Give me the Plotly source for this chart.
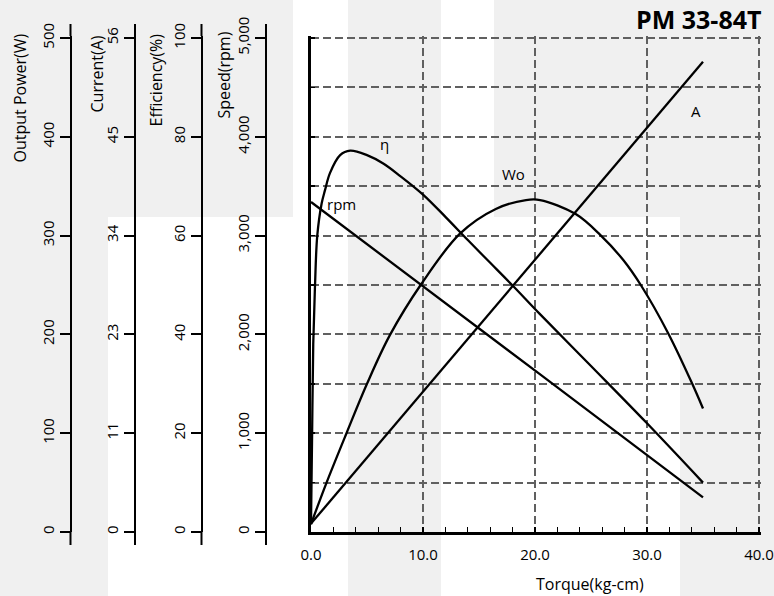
import plotly.graph_objects as go

# ---------------- data ----------------
torque_eff = [0, 0.1, 0.2, 0.36, 0.56, 0.95, 1.25, 1.7, 2.6, 3.5, 5.0, 6.45, 8.0, 10.0, 12.0, 14.0, 16.0, 18.0, 20.4, 25.0, 30.0, 35.0]
efficiency = [1.5, 20, 38, 50, 60, 66.5, 69.2, 72.7, 76.3, 77.2, 76.3, 74.6, 72.0, 68.3, 63.8, 59.1, 54.5, 49.9, 44.2, 33.6, 22.0, 10.0]

torque_wo = [0, 1.39, 3.17, 5.0, 7.03, 9.85, 13.3, 16.5, 19.2, 20.45, 23.6, 25.8, 27.9, 29.5, 31.9, 34.0, 35.0]
output_power = [8, 50, 100, 150, 199, 251, 302, 327, 336, 336, 322, 301, 275, 249, 201, 151, 125]

torque_rpm = [0, 10, 20.4, 35]
speed = [3340, 2490, 1600, 350]

torque_cur = [0, 18, 35]
current = [0.95, 27.9, 53.3]

power_ticks = [0, 100, 200, 300, 400, 500]
current_tickvals = [0, 11.2, 22.4, 33.6, 44.8, 56]
current_ticktext = ["0", "11", "23", "34", "45", "56"]
eff_ticks = [0, 20, 40, 60, 80, 100]
speed_ticks = [0, 1000, 2000, 3000, 4000, 5000]
torque_ticks = [0, 10, 20, 30, 40]

# ---------------- layout geometry (pixels) ----------------
W, H = 774, 596
X0, X1 = 311, 759          # plot area left/right
YT, YB = 38, 532           # plot area top/bottom
EXT = 2                    # small extension so edge gridlines are kept
LINE_TOP, LINE_BOT = 24, 545
FONT = "Open Sans"


def fx(px):
    return px / W


def fy(py):
    return 1 - py / H


def ext_range(vmax):
    return [0, vmax * (YB - YT + EXT) / (YB - YT)]


x_max = 40 * (X1 - X0 + EXT) / (X1 - X0)

left_axes = [
    # (axis name, pixel x, max, tickvals, ticktext)
    ("yaxis2", 70.5, 500, power_ticks, [str(v) for v in power_ticks]),
    ("yaxis3", 135, 56, current_tickvals, current_ticktext),
    ("yaxis4", 201.5, 100, eff_ticks, [str(v) for v in eff_ticks]),
    ("yaxis5", 266, 5000, speed_ticks, [f"{v:,}" for v in speed_ticks]),
]

fig = go.Figure()

# empty trace that registers the main (grid) axes
fig.add_trace(go.Scatter(x=[], y=[], mode="lines", xaxis="x", yaxis="y", hoverinfo="skip"))

line_style = dict(color="black", width=2.3, shape="spline", smoothing=1.0)
fig.add_trace(go.Scatter(x=torque_wo, y=output_power, mode="lines", line=line_style, yaxis="y2", hoverinfo="skip"))
fig.add_trace(go.Scatter(x=torque_cur, y=current, mode="lines", line=dict(color="black", width=2.3), yaxis="y3", hoverinfo="skip"))
fig.add_trace(go.Scatter(x=torque_eff, y=efficiency, mode="lines", line=line_style, yaxis="y4", hoverinfo="skip"))
fig.add_trace(go.Scatter(x=torque_rpm, y=speed, mode="lines", line=dict(color="black", width=2.3), yaxis="y5", hoverinfo="skip"))

grid_kw = dict(showgrid=True, gridcolor="#606060", gridwidth=2, griddash="8px,4px")

layout = dict(
    width=W, height=H, autosize=False,
    margin=dict(l=0, r=0, t=0, b=0, pad=0, autoexpand=False),
    paper_bgcolor="white",
    plot_bgcolor="rgba(0,0,0,0)",
    showlegend=False,
    hovermode=False,
    font=dict(family=FONT, color="black", size=15),
    xaxis=dict(
        domain=[fx(X0), fx(X1 + EXT)], range=[0, x_max], automargin=False,
        tickmode="array", tickvals=torque_ticks, tickformat=".1f",
        ticks="inside", ticklen=5, tickwidth=1.2, tickcolor="black",
        minor=dict(dtick=2, tick0=0, ticks="inside", ticklen=5, tickwidth=1.2, tickcolor="black", showgrid=False),
        showline=True, linecolor="black", linewidth=2.6,
        zeroline=False, tickfont=dict(size=15, family=FONT),
        ticklabelstandoff=7,
        **grid_kw,
    ),
    yaxis=dict(
        domain=[fy(YB), fy(YT - EXT)], range=ext_range(5000), automargin=False,
        tick0=0, dtick=500, showticklabels=False,
        ticks="inside", ticklen=4, tickwidth=1.5, tickcolor="black",
        showline=True, linecolor="black", linewidth=2.6, zeroline=False,
        **grid_kw,
    ),
)

shapes = []
# light grey background patches (pixel rectangles)
grey_rects = [(0, 0, 293, 217), (0, 217, 108, 596), (348, 0, 441, 596), (494, 0, 774, 217), (680, 217, 774, 596)]
for (a, b, c, d) in grey_rects:
    shapes.append(dict(type="rect", xref="paper", yref="paper", x0=fx(a), x1=fx(c), y0=fy(d), y1=fy(b),
                       fillcolor="#f0f0f0", line=dict(width=0), layer="below"))

for name, px, vmax, tv, tt in left_axes:
    layout[name] = dict(
        overlaying="y", anchor="free", position=fx(px), side="left", automargin=False,
        range=ext_range(vmax), tickmode="array", tickvals=tv, ticktext=tt,
        tickangle=-90, ticks="outside", ticklen=10, tickwidth=2, tickcolor="black",
        showline=True, linecolor="black", linewidth=2, showgrid=False, zeroline=False,
        tickfont=dict(size=15, family=FONT),
    )
    # axis line continues a little beyond the value range
    for (ya, yb) in [(LINE_TOP, YT - EXT), (YB, LINE_BOT)]:
        shapes.append(dict(type="line", xref="paper", yref="paper", x0=fx(px), x1=fx(px), y0=fy(ya), y1=fy(yb),
                           line=dict(color="black", width=2), layer="above"))

layout["shapes"] = shapes

annotations = []
# axis titles (rotated)
axis_titles = [("Output Power(W)", 19.5, 98), ("Current(A)", 96.5, 74), ("Efficiency(%)", 155.5, 80), ("Speed(rpm)", 223.5, 75)]
for text, px, py in axis_titles:
    annotations.append(dict(text=text, xref="paper", yref="paper", x=fx(px), y=fy(py), textangle=-90,
                            showarrow=False, xanchor="center", yanchor="middle", font=dict(size=16, family=FONT)))
annotations.append(dict(text="Torque(kg-cm)", xref="paper", yref="paper", x=fx(590), y=fy(584), showarrow=False,
                        xanchor="center", yanchor="middle", font=dict(size=16, family=FONT)))
annotations.append(dict(text="<b>PM 33-84T</b>", xref="paper", yref="paper", x=fx(763), y=fy(19), showarrow=False,
                        xanchor="right", yanchor="middle", font=dict(size=25, family=FONT)))
# curve labels
curve_labels = [("η", 6.6, 78.6, "y4"), ("rpm", 2.74, 3317, "y5"), ("Wo", 18.1, 362, "y2"), ("A", 34.4, 47.7, "y3")]
for text, xv, yv, yref in curve_labels:
    annotations.append(dict(text=text, x=xv, y=yv, xref="x", yref=yref, showarrow=False,
                            xanchor="center", yanchor="middle", font=dict(size=15, family=FONT)))
layout["annotations"] = annotations

fig.update_layout(**layout)
fig.write_html("out.html", config={"displayModeBar": False, "staticPlot": True},
               post_script="document.body.style.margin='0px';document.body.style.overflow='hidden';")
